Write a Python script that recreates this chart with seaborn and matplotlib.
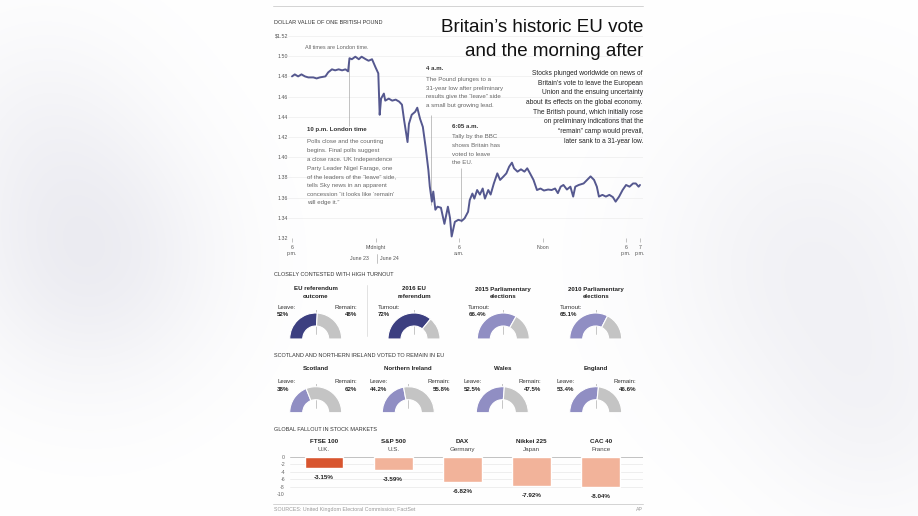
import matplotlib
matplotlib.use('Agg')
import matplotlib.pyplot as plt
import matplotlib.transforms as mtransforms
from matplotlib.lines import Line2D
import numpy as np
import seaborn as sns

# ---- data ----
hours = [0.0, 0.2, 0.44, 0.68, 0.93, 1.17, 1.53, 1.77, 2.0, 2.4,
         2.6, 2.87, 3.1, 3.35, 3.6, 3.84, 4.03, 4.13, 4.3, 4.55,
         4.8, 5.0, 5.3, 5.5, 5.75, 6.0, 6.2, 6.3, 6.4, 6.6,
         6.7, 6.95, 7.2, 7.45, 7.7, 7.9, 8.05, 8.3, 8.4, 8.6,
         8.85, 9.0, 9.2, 9.4, 9.6, 9.8, 9.9, 10.05, 10.15, 10.3,
         10.45, 10.7, 10.95, 11.2, 11.35, 11.47, 11.7, 11.95, 12.2, 12.4,
         12.65, 12.77, 12.96, 13.1, 13.3, 13.5, 13.7, 13.86, 14.1, 14.27,
         14.5, 14.75, 14.95, 15.2, 15.4, 15.6, 15.8, 15.95, 16.2, 16.45,
         16.7, 16.9, 17.1, 17.35, 17.6, 17.85, 18.1, 18.4, 18.65, 18.9,
         19.1, 19.3, 19.5, 19.75, 20.0, 20.2, 20.35, 20.6, 20.95, 21.2,
         21.45, 21.7, 21.9, 22.05, 22.3, 22.55, 22.8, 23.05, 23.25, 23.5,
         23.75, 24.0, 24.25, 24.5, 24.7, 24.9, 25.0]
pound_usd = [1.480, 1.482, 1.480, 1.482, 1.480, 1.479, 1.479, 1.478, 1.479, 1.480,
             1.484, 1.487, 1.486, 1.487, 1.486, 1.487, 1.485, 1.498, 1.497, 1.4995,
             1.497, 1.4995, 1.497, 1.4955, 1.497, 1.489, 1.483, 1.442, 1.458, 1.463,
             1.456, 1.458, 1.456, 1.457, 1.455, 1.452, 1.437, 1.415, 1.433, 1.442,
             1.445, 1.449, 1.438, 1.430, 1.410, 1.387, 1.371, 1.356, 1.366, 1.348,
             1.351, 1.350, 1.334, 1.351, 1.340, 1.3215, 1.336, 1.338, 1.337, 1.3395,
             1.346, 1.3576, 1.364, 1.359, 1.3675, 1.363, 1.369, 1.359, 1.3675, 1.363,
             1.374, 1.384, 1.3775, 1.381, 1.384, 1.3906, 1.3946, 1.389, 1.3857, 1.388,
             1.3857, 1.389, 1.384, 1.3775, 1.3675, 1.369, 1.367, 1.368, 1.3675, 1.369,
             1.3644, 1.3708, 1.3725, 1.368, 1.3708, 1.361, 1.3708, 1.3725, 1.374, 1.3775,
             1.381, 1.3775, 1.3708, 1.361, 1.3627, 1.361, 1.3627, 1.3605, 1.356, 1.361,
             1.3675, 1.3725, 1.3708, 1.374, 1.374, 1.3708, 1.3725]
time_ticks = [0, 6, 12, 18, 24, 25]
time_labels = ['6\np.m.', 'Midnight', '6\na.m.', 'Noon', '6\np.m.', '7\np.m.']
price_ticks = [1.32, 1.34, 1.36, 1.38, 1.40, 1.42, 1.44, 1.46, 1.48, 1.50, 1.52]

turnout_titles = ['EU referendum\noutcome', '2016 EU\nreferendum',
                  '2015 Parliamentary\nelections', '2010 Parliamentary\nelections']
turnout_values = [52, 72, 66.4, 65.1]
turnout_left = ['Leave:', 'Turnout:', 'Turnout:', 'Turnout:']
turnout_right = ['Remain:', '', '', '']

region_titles = ['Scotland', 'Northern Ireland', 'Wales', 'England']
region_leave = [38, 44.2, 52.5, 53.4]
region_remain = [62, 55.8, 47.5, 46.6]

markets = ['FTSE 100', 'S&P 500', 'DAX', 'Nikkei 225', 'CAC 40']
market_places = ['U.K.', 'U.S.', 'Germany', 'Japan', 'France']
market_change = [-3.15, -3.59, -6.82, -7.92, -8.04]

# ---- style ----
sns.set_theme(style='white')
plt.rcParams['font.family'] = ['Liberation Sans', 'DejaVu Sans']

NAVY = '#3c3f80'
PURPLE = '#908ec3'
GREY = '#c4c4c4'
LINE = '#55588f'
DARK = '#222222'
MID = '#666666'

W, H = 918, 516
fig = plt.figure(figsize=(W / 100, H / 100), dpi=100, facecolor='white')


def fy(y):
    return 1 - y / H


def px_axes(x0, y0, x1, y1):
    return fig.add_axes([x0 / W, 1 - y1 / H, (x1 - x0) / W, (y1 - y0) / H])


def ftext(x, y, s, size=4.4, color=DARK, ha='left', weight='normal', **kw):
    return fig.text(x / W, fy(y), s, fontsize=size, color=color, ha=ha, va='center',
                    fontweight=weight, **kw)


def flines(x, y0, dy, lines, **kw):
    for i, line in enumerate(lines):
        ftext(x, y0 + i * dy, line, **kw)


def fline(xs, ys, color='#cccccc', lw=0.6):
    fig.add_artist(Line2D([x / W for x in xs], [fy(y) for y in ys],
                          transform=fig.transFigure, color=color, lw=lw))


# faint blurred backdrop at the sides
bg = fig.add_axes([0, 0, 1, 1], zorder=-5)
yy, xx = np.mgrid[0:H, 0:W]
shade = np.zeros((H, W))
for cx, cy, r, a in [(90, 260, 90, 0.07), (40, 120, 80, 0.03), (810, 260, 110, 0.05),
                     (880, 420, 80, 0.03)]:
    shade += a * np.exp(-((xx - cx) ** 2 + (yy - cy) ** 2) / (2 * r ** 2))
img = np.dstack([1 - shade, 1 - shade, 1 - shade * 0.7])
bg.imshow(np.clip(img, 0, 1), extent=[0, W, H, 0], aspect='auto')
bg.axis('off')

# rules
fline([273, 643], [6, 6])
fline([273, 643], [504, 504])

# ---- pound line chart ----
ax = px_axes(288, 36, 643, 238)
sns.lineplot(x=hours, y=pound_usd, ax=ax, color=LINE, lw=1.4, zorder=3)
ax.set_xlim(-0.287, 25.216)
ax.set_ylim(1.32, 1.52)
ax.set_yticks(price_ticks)
ax.set_yticklabels(['$1.52' if v == 1.52 else f'{v:.2f}' for v in price_ticks])
ax.set_xticks(time_ticks)
ax.set_xticklabels(time_labels)
ax.tick_params(axis='y', length=0, pad=0, labelsize=3.8, labelcolor='#555555')
ax.tick_params(axis='x', bottom=True, direction='out', length=3, width=0.5,
               color='#aaaaaa', pad=2, labelsize=3.8, labelcolor='#555555')
for lab in ax.get_xticklabels():
    lab.set_verticalalignment('top')
ax.yaxis.grid(True, color='#ededed', lw=0.5)
ax.xaxis.grid(False)
for s in ax.spines.values():
    s.set_visible(False)
ax.set_facecolor('none')

# annotation leader lines
ax.vlines(4.1, 1.431, 1.497, color='#aaaaaa', lw=0.5, zorder=2)
ax.vlines(10.0, 1.353, 1.442, color='#aaaaaa', lw=0.5, zorder=2)
ax.vlines(12.12, 1.336, 1.389, color='#aaaaaa', lw=0.5, zorder=2)

ftext(359, 259, 'June 23', size=3.8, color='#555555', ha='center')
ftext(389, 259, 'June 24', size=3.8, color='#555555', ha='center')
fline([377, 377], [254, 263], color='#aaaaaa', lw=0.5)

ftext(274, 22.3, 'DOLLAR VALUE OF ONE BRITISH POUND', size=4, color='#333333')
ftext(305, 47.3, 'All times are London time.', size=4, color=MID)

ftext(307, 130, '10 p.m. London time', weight='bold', color='#333333')
flines(307, 142, 8.67, ['Polls close and the counting',
                        'begins. Final polls suggest',
                        'a close race. UK Independence',
                        'Party Leader Nigel Farage, one',
                        'of the leaders of the “leave” side,',
                        'tells Sky news in an apparent',
                        'concession “it looks like ‘remain’',
                        'will edge it.”'], color=MID)
ftext(426, 69, '4 a.m.', weight='bold', color='#333333')
flines(426, 80, 8.45, ['The Pound plunges to a',
                       '31-year low after preliminary',
                       'results give the “leave” side',
                       'a small but growing lead.'], color=MID)
ftext(452, 126, '6:05 a.m.', weight='bold', color='#333333')
flines(452, 136.7, 8.7, ['Tally by the BBC',
                         'shows Britain has',
                         'voted to leave',
                         'the EU.'], color=MID)

# title and intro
ftext(643, 27.5, 'Britain’s historic EU vote', size=13.5, color='#111111', ha='right')
ftext(643, 51, 'and the morning after', size=13.5, color='#111111', ha='right')
flines(643, 73.3, 9.7, ['Stocks plunged worldwide on news of',
                        'Britain’s vote to leave the European',
                        'Union and the ensuing uncertainty',
                        'about its effects on the global economy.',
                        'The British pound, which initially rose',
                        'on preliminary indications that the',
                        '“remain” camp would prevail,',
                        'later sank to a 31-year low.'], size=4.8, ha='right')


# ---- gauges ----
def gauge(cx, by, value, color):
    r = 28.6
    gx = px_axes(cx - r, by - r, cx + r, by + r)
    gx.plot([0, 0], [0.2, 1.27], color='#b0b0b0', lw=0.5, zorder=0.5)
    wedges, _ = gx.pie([value, 100 - value, 100], colors=[color, GREY, 'white'],
                       startangle=180, counterclock=False, radius=1,
                       wedgeprops=dict(width=0.5, edgecolor='white', linewidth=0.8))
    wedges[2].set_visible(False)
    gx.set_xlim(-1.1, 1.1)
    gx.set_ylim(-1.1, 1.1)
    gx.set_aspect('equal')
    gx.axis('off')


ftext(274, 275, 'CLOSELY CONTESTED WITH HIGH TURNOUT', size=4, color='#333333')
row1_cx = [315.7, 414, 503.3, 595.7]
row1_lx = [277, 378, 468.3, 560]
for i, title in enumerate(turnout_titles):
    cx = row1_cx[i]
    t1, t2 = title.split('\n')
    ftext(cx, 289, t1, weight='bold', ha='center')
    ftext(cx, 296.5, t2, weight='bold', ha='center')
    ftext(row1_lx[i], 307.7, turnout_left[i], color='#333333')
    ftext(row1_lx[i], 315, f'{turnout_values[i]:g}%', weight='bold')
    if turnout_right[i]:
        ftext(357.3, 307.7, turnout_right[i], color='#333333', ha='right')
        ftext(357.3, 315, f'{100 - turnout_values[i]:g}%', weight='bold', ha='right')
    gauge(cx, 339, turnout_values[i], NAVY if i < 2 else PURPLE)
fline([366.7, 366.7], [285, 336], color='#dddddd', lw=0.6)

ftext(274, 355.7, 'SCOTLAND AND NORTHERN IRELAND VOTED TO REMAIN IN EU', size=4,
      color='#333333')
row2_cx = [315.7, 408.3, 502.3, 595.7]
row2_lx = [277, 370, 463.7, 556.7]
row2_rx = [357, 450, 541, 636]
for i, title in enumerate(region_titles):
    ftext(row2_cx[i], 368.3, title, weight='bold', ha='center')
    ftext(row2_lx[i], 381.7, 'Leave:', color='#333333')
    ftext(row2_lx[i], 389.3, f'{region_leave[i]:g}%', weight='bold')
    ftext(row2_rx[i], 381.7, 'Remain:', color='#333333', ha='right')
    ftext(row2_rx[i], 389.3, f'{region_remain[i]:g}%', weight='bold', ha='right')
    gauge(row2_cx[i], 412.7, region_leave[i], PURPLE)

# ---- stock markets ----
ftext(274, 429.3, 'GLOBAL FALLOUT IN STOCK MARKETS', size=4, color='#333333')
bx = px_axes(290, 456.7, 643, 494)
bar_colors = ['#d8552f'] + ['#f2b39a'] * 4
sns.barplot(x=markets, y=market_change, hue=markets, palette=bar_colors, width=0.56,
            saturation=1, legend=False, ax=bx, zorder=2)
bx.set_xlim(-0.49, 4.61)
bx.set_ylim(-10, 0)
bx.set_yticks([0, -2, -4, -6, -8, -10])
bx.set_yticklabels(['0', '-2', '-4', '-6', '-8', '-10'])
bx.tick_params(axis='y', length=0, pad=3.6, labelsize=3.8, labelcolor='#666666')
bx.set_xticks([])
bx.set_xlabel('')
bx.set_ylabel('')
bx.yaxis.grid(True, color='#e8e8e8', lw=0.5)
bx.set_axisbelow(True)
bx.axhline(0, color='#bbbbbb', lw=0.6, zorder=1)
for s in bx.spines.values():
    s.set_visible(False)
bx.set_facecolor('none')
for cont, val in zip(bx.containers, market_change):
    bx.bar_label(cont, labels=[f'{val:.2f}%'], padding=5, fontsize=4.5,
                 fontweight='bold', color=DARK)
blend = mtransforms.blended_transform_factory(bx.transData, fig.transFigure)
for i, (name, place) in enumerate(zip(markets, market_places)):
    bx.text(i, fy(441.7), name, transform=blend, ha='center', va='center',
            fontsize=4.5, fontweight='bold', color=DARK)
    bx.text(i, fy(449.3), place, transform=blend, ha='center', va='center',
            fontsize=4.5, color='#444444')

ftext(274, 509.3, 'SOURCES: United Kingdom Electoral Commission; FactSet', size=3.8,
      color='#999999')
ftext(643, 509.3, 'AP', size=3.8, color='#999999', ha='right')

fig.savefig('out.png', dpi=100, facecolor='white')
